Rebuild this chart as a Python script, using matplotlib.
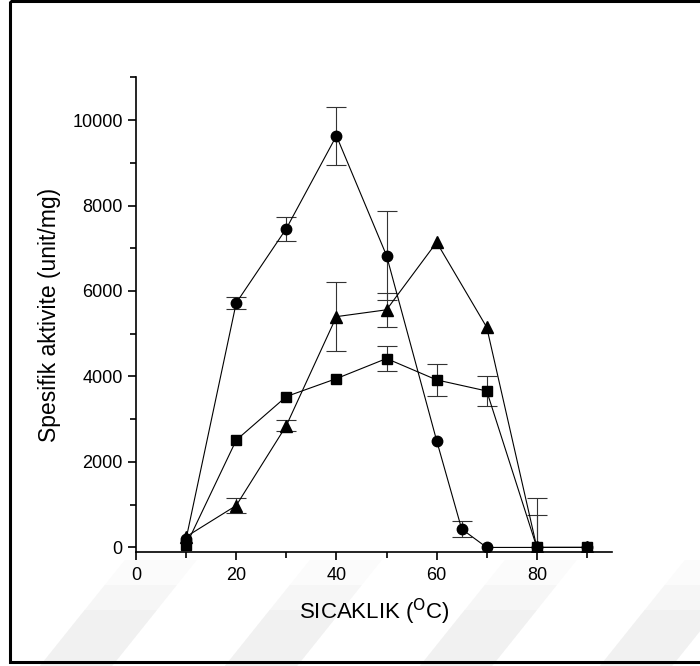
import numpy as np
import matplotlib
matplotlib.use("Agg")
import matplotlib.pyplot as plt
from matplotlib.patches import Polygon, Rectangle
from matplotlib.ticker import MultipleLocator

plt.rcParams['font.family'] = ['Liberation Sans', 'DejaVu Sans']

# temperatures (C) and specific activity (unit/mg) with std errors
temp = [10, 20, 30, 40, 50, 60, 65, 70, 80, 90]
circ = [200, 5720, 7460, 9630, 6830, 2500, 430, 0, 0, 0]
circ_err = [0, 150, 280, 680, 1050, 0, 180, 0, 0, 0]

temp_sq = [10, 20, 30, 40, 50, 60, 70, 80, 90]
sq = [50, 2510, 3530, 3950, 4420, 3920, 3660, 0, 0]
sq_err = [0, 0, 0, 0, 290, 380, 350, 1150, 0]

temp_tri = [10, 20, 30, 40, 50, 60, 70, 80, 90]
tri = [250, 980, 2850, 5400, 5560, 7140, 5150, 0, 0]
tri_err = [0, 170, 130, 800, 400, 0, 0, 750, 0]

fig = plt.figure(figsize=(7.0, 6.66), dpi=100)
W, H = 700.0, 666.0

# background layer in pixel-like coords: page frame and faint stripes
bg = fig.add_axes([0, 0, 1, 1], zorder=-5)
bg.set_xlim(0, W)
bg.set_ylim(H, 0)
bg.axis('off')
for x0 in [40, 225, 420, 600]:
    for top, col in [(560, '#fbfbfb'), (585, '#f6f6f6'), (610, '#f1f1f1')]:
        pts = [(x0, 666), (x0 + 72, 666),
               (x0 + 72 + 0.8 * (666 - top), top), (x0 + 0.8 * (666 - top), top)]
        bg.add_patch(Polygon(pts, closed=True, facecolor=col, edgecolor='none'))
bg.add_patch(Rectangle((10, 1), 800, 661, fill=False, edgecolor='black', linewidth=2.2))

ax = fig.add_axes([136 / W, 1 - 551.7 / H, 476 / W, 474.4 / H], zorder=1)
ax.set_facecolor('none')


def series(x, y, err, marker, ms):
    x, y, err = np.array(x), np.array(y), np.array(err)
    ax.plot(x, y, color='black', linewidth=0.8, marker=marker, markersize=ms, zorder=3)
    m = err > 0
    ax.errorbar(x[m], y[m], yerr=err[m], fmt='none', ecolor='#333333',
                elinewidth=0.8, capsize=7, capthick=0.8, zorder=2)


series(temp_sq, sq, sq_err, 's', 6.5)
series(temp_tri, tri, tri_err, '^', 8.5)
series(temp, circ, circ_err, 'o', 7.5)

ax.set_xlim(0, 95)
ax.set_ylim(-100, 11000)
ax.xaxis.set_major_locator(MultipleLocator(20))
ax.xaxis.set_minor_locator(MultipleLocator(10))
ax.yaxis.set_major_locator(MultipleLocator(2000))
ax.yaxis.set_minor_locator(MultipleLocator(1000))

for s in ['top', 'right']:
    ax.spines[s].set_visible(False)
for s in ['left', 'bottom']:
    ax.spines[s].set_linewidth(1.2)

ax.tick_params(which='major', direction='out', length=6, width=1.2, labelsize=13)
ax.tick_params(which='minor', direction='out', length=4, width=1.2)
ax.tick_params(axis='x', pad=5)

ax.set_xlabel('SICAKLIK ($^{\\mathrm{O}}$C)', fontsize=16, labelpad=9)
ax.set_ylabel('Spesifik aktivite (unit/mg)', fontsize=16.5, labelpad=8)

fig.savefig('out.png', dpi=100)
